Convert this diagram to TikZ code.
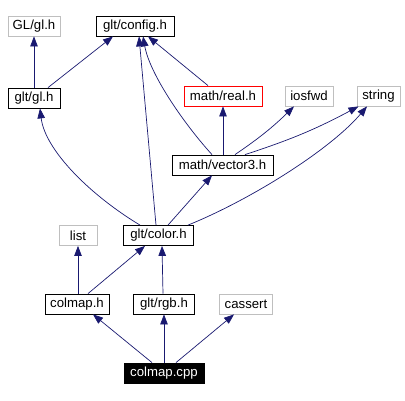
\documentclass[tikz,border=0pt]{standalone}
\usepackage{fontspec}
\setmainfont{Liberation Sans}
\usepackage{xcolor}
\definecolor{edgeblue}{RGB}{25, 25, 112}
\definecolor{sysgrey}{RGB}{191, 191, 191}
\definecolor{warnred}{RGB}{255, 0, 0}
\usetikzlibrary{
  arrows.meta,
  positioning
}

\begin{document}
\begin{tikzpicture}[x=1pt, y=-1pt,
  file/.style={draw=black, fill=white, thick, minimum height=20pt, inner sep=0pt,
    font=\fontsize{13.2}{15}\selectfont},
  sysfile/.style={file, draw=sysgrey},
  dep/.style={edgeblue, line width=0.7pt, -{Triangle[length=10pt, width=7.5pt]}}]

  \useasboundingbox (0,0) rectangle (405,401);

  % top row
  \node[sysfile, minimum width=52pt] (glgl) at (34,26) {GL/gl.h};
  \node[file, minimum width=78pt] (config) at (135,26) {glt/config.h};

  % second row
  \node[file, minimum width=52pt] (gltgl) at (34,98) {glt/gl.h};
  \node[file, draw=warnred, minimum width=78pt] (real) at (223,96) {math/real.h};
  \node[sysfile, minimum width=48pt] (iosfwd) at (309,96) {iosfwd};
  \node[sysfile, minimum width=43pt] (string) at (378.5,96) {string};

  % middle
  \node[file, minimum width=101pt] (vector3) at (222.5,165) {math/vector3.h};
  \node[sysfile, minimum width=38pt] (list) at (78,235.5) {list};
  \node[file, minimum width=70pt] (color) at (158.5,235.5) {glt/color.h};

  % lower rows
  \node[file, minimum width=64pt] (colmaph) at (77,304) {colmap.h};
  \node[file, minimum width=61pt] (rgb) at (164,304) {glt/rgb.h};
  \node[sysfile, minimum width=53pt] (cassert) at (246,304) {cassert};
  \node[file, fill=black, text=white, minimum width=80pt] (colmapcpp) at (164,373) {colmap.cpp};

  % includes of glt/gl.h and math/real.h
  \draw[dep] (gltgl.north) -- (glgl.south);
  \draw[dep] ([xshift=14pt]gltgl.north) -- ([xshift=-22pt]config.south);
  \draw[dep] ([xshift=-15pt]real.north) -- ([xshift=13pt]config.south);

  % includes of math/vector3.h
  \draw[dep] ([xshift=-10.5pt]vector3.north)
    .. controls (185,125) and (150,75) .. ([xshift=8pt]config.south);
  \draw[dep] ([xshift=0.5pt]vector3.north) -- (real.south);
  \draw[dep] ([xshift=12.5pt]vector3.north) to[bend right=5] ([xshift=-15pt]iosfwd.south);
  \draw[dep] ([xshift=22.5pt]vector3.north) to[bend right=5] ([xshift=-20pt]string.south);

  % includes of glt/color.h
  \draw[dep] ([xshift=-2.5pt]color.north) -- ([xshift=4pt]config.south);
  \draw[dep] ([xshift=-18.5pt]color.north)
    .. controls (90,195) and (45,150) .. ([xshift=6pt]gltgl.south);
  \draw[dep] ([xshift=9.5pt]color.north) -- ([xshift=-10.5pt]vector3.south);
  \draw[dep] ([xshift=29.5pt]color.north)
    .. controls (250,200) and (330,150) .. ([xshift=-11.5pt]string.south);

  % includes of colmap.h and glt/rgb.h
  \draw[dep] ([xshift=1pt]colmaph.north) -- (list.south);
  \draw[dep] ([xshift=11pt]colmaph.north) -- ([xshift=-13.5pt]color.south);
  \draw[dep] ([xshift=-1pt]rgb.north) -- ([xshift=3.5pt]color.south);

  % includes of colmap.cpp
  \draw[dep] ([xshift=-12pt]colmapcpp.north) -- ([xshift=16pt]colmaph.south);
  \draw[dep] (colmapcpp.north) -- (rgb.south);
  \draw[dep] ([xshift=12pt]colmapcpp.north) -- ([xshift=-12pt]cassert.south);

\end{tikzpicture}
\end{document}
